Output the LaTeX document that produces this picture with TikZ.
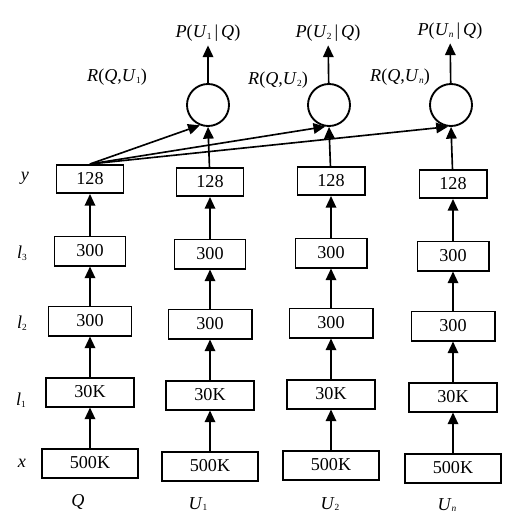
\documentclass[tikz,border=0pt]{standalone}
\usepackage{fontspec}
\setmainfont{Liberation Serif}
\usetikzlibrary{arrows.meta}

\newcommand{\lsub}[1]{\raisebox{-0.2ex}{\footnotesize #1}}

\tikzset{
  layer/.style={draw, line width=1.7pt, minimum height=0.87cm, inner sep=0pt,
                text height=0.95em, text depth=0pt},
  unit/.style={draw, circle, line width=1.6pt, minimum size=1.26cm, inner sep=0pt},
  feed/.style={line width=1.4pt, -{Triangle[length=10pt,width=9pt]}},
}

\begin{document}
\begin{tikzpicture}[x=0.03cm, y=-0.03cm, font=\fontsize{15.5}{18}\selectfont]
  \useasboundingbox (0,0) rectangle (518,528);

  % one tower per input: x, l1, l2, l3, y
  \foreach \c/\px/\dy in {q/90/0, u1/210/3, u2/331/2, un/453/5} {
    \node [layer, minimum width=2.88cm] (\c-x)  at (\px, 463+\dy) {500K};
    \node [layer, minimum width=2.64cm] (\c-l1) at (\px, 392+\dy) {30K};
    \node [layer, minimum width=2.49cm] (\c-l2) at (\px, 321+\dy) {300};
    \node [layer, minimum width=2.13cm] (\c-l3) at (\px, 251+\dy) {300};
    \node [layer, minimum width=2.01cm, minimum height=0.84cm] (\c-y) at (\px, 179+\dy) {128};

    \draw [feed] (\c-x)  -- (\c-l1);
    \draw [feed] (\c-l1) -- (\c-l2);
    \draw [feed] (\c-l2) -- (\c-l3);
    \draw [feed] (\c-l3) -- (\c-y);
  }

  \node (Q)  at (78, 502)  {\textit{Q}};
  \node (U1) at (198, 504) {\textit{U}\lsub{1}};
  \node (U2) at (330, 504) {\textit{U}\lsub{2}};
  \node (Un) at (447, 505) {\textit{U}\lsub{\textit{n}}};

  \node (ly)  at (25, 178) {\textit{y}};
  \node (ll3) at (22, 253) {\textit{l}\lsub{3}};
  \node (ll2) at (22, 323) {\textit{l}\lsub{2}};
  \node (ll1) at (21, 400) {\textit{l}\lsub{1}};
  \node (lx)  at (22, 463) {\textit{x}};

  % cosine units
  \node [unit] (c1) at (208, 105) {};
  \node [unit] (c2) at (329, 105) {};
  \node [unit] (cn) at (451, 105) {};

  \draw [feed] (u1-y) -- (c1.south);
  \draw [feed] (u2-y) -- (c2.south);
  \draw [feed] (un-y) -- (cn.south);

  \draw [feed] (q-y.north) -- (c1.248);
  \draw [feed] (q-y.north) -- (c2.260);
  \draw [feed] (q-y.north) -- (cn.262);

  \node (R1) at (117, 77) {\textit{R}(\textit{Q},\textit{U}\lsub{1})};
  \node (R2) at (278, 80) {\textit{R}(\textit{Q},\textit{U}\lsub{2})};
  \node (Rn) at (400, 77) {\textit{R}(\textit{Q},\textit{U}\lsub{\textit{n}})};

  \node (p1) at (208, 33) {\textit{P}(\textit{U}\lsub{1}\,|\,\textit{Q})};
  \node (p2) at (328, 33) {\textit{P}(\textit{U}\lsub{2}\,|\,\textit{Q})};
  \node (pn) at (450, 31) {\textit{P}(\textit{U}\lsub{\textit{n}}\,|\,\textit{Q})};

  \draw [feed] (c1) -- (p1);
  \draw [feed] (c2) -- (p2);
  \draw [feed] (cn) -- (pn);
\end{tikzpicture}
\end{document}
